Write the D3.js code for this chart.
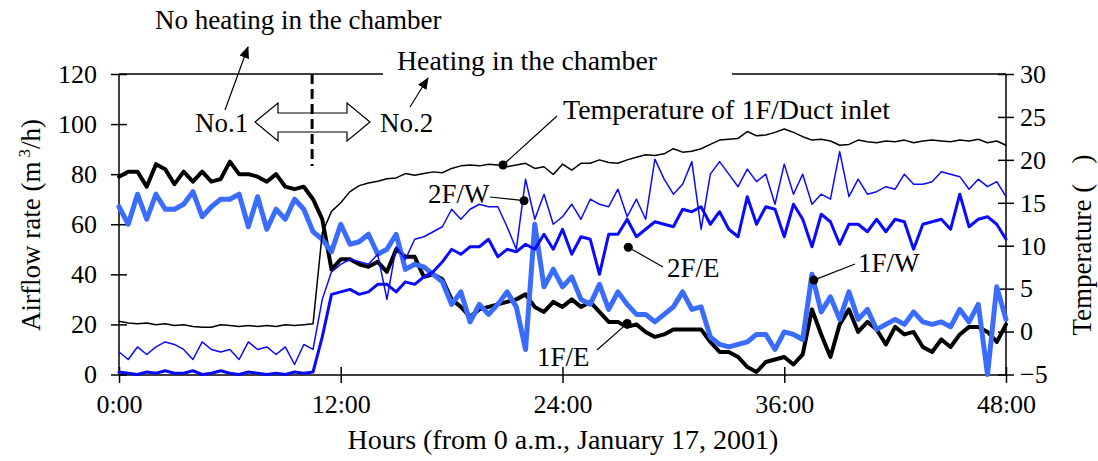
<!DOCTYPE html>
<html><head><meta charset="utf-8">
<script src="https://cdn.jsdelivr.net/npm/d3@7"></script>
<style>
body{margin:0;background:#fff}
svg{display:block}
text{font-family:"Liberation Serif","Times New Roman",serif;fill:#000}
</style>
</head><body>
<svg id="c" width="1098" height="461"></svg>
<script>
// time grid (hours from 0 a.m., Jan 17, 2001), every 30 min
const hours = d3.range(0, 48.01, 0.5);

// 1F/E airflow (m3/h)
const f1E = [79,81,81,75,84,82,76,81,77,81,77,78,85,80,80,79,
  77,80,75,74,75,70,62,42,46,46,44,43,45,41,50,47,
  47,39,40,38,30,27,23,26,27,28,29,30,32,27,25,29,
  27,30,27,29,25,21,21,19,20,17,15,16,18,18,18,18,
  13,9,9,7,3,1,5,6,7,4,8,26,16,7,20,26,
  17,21,18,12,19,16,17,11,9,14,11,16,19,19,17,13,
  20];
// 1F/W airflow
const f1W = [67,60,72,62,72,66,66,68,73,63,67,70,70,72,59,71,
  58,66,62,70,66,57,54,49,60,52,53,56,48,50,56,42,
  44,43,40,37,28,33,21,28,24,28,33,27,10,60,35,42,
  35,39,30,28,36,26,33,28,24,24,21,24,27,33,26,27,
  15,12,11,12,13,16,16,10,17,16,14,40,25,31,22,33,
  22,26,18,20,22,20,25,21,20,21,19,26,21,28,0,35,
  22];
// 2F/W airflow
const f2W = [9,6,11,8,11,13,12,10,6,13,10,9,10,6,13,10,
  11,8,11,4,12,10,30,41,44,46,45,44,48,30,51,46,
  54,55,57,59,66,62,66,68,67,67,59,50,78,62,72,60,
  63,68,62,70,68,67,74,63,70,62,86,78,72,76,85,58,
  80,85,80,75,82,77,80,68,84,72,80,68,72,70,89,71,
  78,72,73,75,74,80,76,76,77,81,80,79,74,78,75,77,
  71];
// 2F/E airflow
const f2E = [1,0.5,0,1,0.5,1.5,0.5,0.5,1.5,0,0.5,1.5,0.5,0,1,0.5,
  0,0.5,0,1,0.5,1,15,32,33,34,32,33,36,36,33,37,
  36,39,41,45,50,48,51,51,54,47,50,49,52,50,56,50,
  58,48,55,54,40,56,56,62,55,58,61,60,59,66,65,67,
  60,65,58,55,71,60,67,66,55,68,62,51,64,61,52,60,
  60,57,62,57,62,61,50,60,61,62,58,72,59,62,63,60,
  54];
// Temperature of 1F/Duct inlet (deg C)
const tempDuct = [1.2,1.0,0.9,1.0,0.8,0.9,0.7,0.8,0.6,0.5,0.5,0.8,0.7,0.6,0.7,0.6,
  0.7,0.6,0.8,0.7,0.8,0.9,11.5,14.0,15.0,16.3,17.0,17.3,17.5,17.8,17.9,18.4,
  18.2,18.4,18.6,18.5,19.0,19.3,19.4,19.3,19.5,19.4,19.2,19.4,19.6,19.0,19.2,18.3,
  19.5,18.8,19.6,19.6,20.0,19.7,19.6,20.0,20.3,20.6,20.5,20.7,21.3,20.9,21.0,21.3,
  21.8,22.3,22.4,22.5,23.3,22.8,22.9,23.2,23.6,23.2,22.7,22.3,22.4,22.2,21.7,21.8,
  22.3,22.1,22.0,22.2,22.1,22.3,22.0,22.2,22.3,22.2,22.1,22.3,22.2,22.4,22.0,22.2,
  21.7];

const xTicks = [0,12,24,36,48];
const leftTicks = [0,20,40,60,80,100,120];
const rightTicks = [-5,0,5,10,15,20,25,30];

const svg = d3.select("#c");
svg.append("rect").attr("width",1098).attr("height",461).attr("fill","#fff");

const x = d3.scaleLinear().domain([0,48]).range([119,1006]);
const yL = d3.scaleLinear().domain([0,120]).range([374.5,74]);
const yR = d3.scaleLinear().domain([-5,30]).range([374.5,74]);

const defs = svg.append("defs");
defs.append("marker").attr("id","ah").attr("viewBox","0 0 12 10")
  .attr("refX",11).attr("refY",5).attr("markerWidth",12).attr("markerHeight",10)
  .attr("markerUnits","userSpaceOnUse").attr("orient","auto")
  .append("path").attr("d","M0,0 L12,5 L0,10 Z").attr("fill","#000");

// axes
const axL = svg.append("g").attr("transform","translate(119,0)")
  .call(d3.axisLeft(yL).tickValues(leftTicks).tickSize(8).tickPadding(14));
axL.select(".domain").remove();
axL.selectAll(".tick line").attr("x1",8).attr("stroke-width",1.5);
axL.selectAll("text").attr("font-size",26).attr("font-family","Liberation Serif");

const axR = svg.append("g").attr("transform","translate(1006,0)")
  .call(d3.axisRight(yR).tickValues(rightTicks).tickSize(8).tickPadding(6));
axR.select(".domain").remove();
axR.selectAll(".tick line").attr("x1",-8).attr("stroke-width",1.5);
axR.selectAll("text").attr("font-size",26).attr("font-family","Liberation Serif");

const axB = svg.append("g").attr("transform","translate(0,375)")
  .call(d3.axisBottom(x).tickValues(xTicks).tickSize(8).tickPadding(12)
    .tickFormat(d => d + ":00"));
axB.select(".domain").remove();
axB.selectAll(".tick line").attr("y1",-8).attr("stroke-width",1.5);
axB.selectAll("text").attr("font-size",26).attr("font-family","Liberation Serif");

// frame
const frame = [[119,74,119,375],[119,375,1006,375],[1006,74,1006,375],[119,74,383,74],[732,74,1006,74]];
svg.append("g").selectAll("line").data(frame).join("line")
  .attr("x1",d=>d[0]).attr("y1",d=>d[1]).attr("x2",d=>d[2]).attr("y2",d=>d[3])
  .attr("stroke","#000").attr("stroke-width",1.5);

// series
const lineL = d3.line().x((d,i)=>x(hours[i])).y(d=>yL(d));
const lineR = d3.line().x((d,i)=>x(hours[i])).y(d=>yR(d));
const series = [
  {data:f1E, gen:lineL, color:"#000000", w:4},
  {data:f1W, gen:lineL, color:"#3a6cff", w:5},
  {data:f2E, gen:lineL, color:"#0a0aff", w:3},
  {data:f2W, gen:lineL, color:"#0a0aff", w:1.5},
  {data:tempDuct, gen:lineR, color:"#000000", w:1.5}
];
svg.append("g").selectAll("path").data(series).join("path")
  .attr("d",d=>d.gen(d.data)).attr("fill","none")
  .attr("stroke",d=>d.color).attr("stroke-width",d=>d.w)
  .attr("stroke-linejoin","round").attr("stroke-linecap","round");

// annotations
const ann = svg.append("g");
// block double arrow
ann.append("path")
  .attr("d","M255,122 L278,103 L278,113 L347,113 L347,103 L370,122 L347,141 L347,132 L278,132 L278,141 Z")
  .attr("fill","#fff").attr("stroke","#000").attr("stroke-width",1.2);
// dashed vertical line (switch from No.1 to No.2)
ann.append("line").attr("x1",x(10.45)).attr("x2",x(10.45)).attr("y1",74).attr("y2",166)
  .attr("stroke","#000").attr("stroke-width",3).attr("stroke-dasharray","10,5");

const txt = (t,xx,yy,fs) => ann.append("text").attr("x",xx).attr("y",yy)
  .attr("font-size",fs||27).text(t);
txt("No heating in the chamber",155,29);
txt("Heating in the chamber",397,70,27.8);
txt("No.1",195,132);
txt("No.2",380,132);
txt("Temperature of 1F/Duct inlet",563,119,28);
txt("2F/W",428,203);
txt("2F/E",667,277);
txt("1F/E",537,366);
txt("1F/W",858,272);

// pointer arrows
ann.append("line").attr("x1",225).attr("y1",110).attr("x2",248).attr("y2",47)
  .attr("stroke","#000").attr("stroke-width",1.2).attr("marker-end","url(#ah)");
ann.append("line").attr("x1",410).attr("y1",107).attr("x2",428).attr("y2",78)
  .attr("stroke","#000").attr("stroke-width",1.2).attr("marker-end","url(#ah)");

// labelled points with leader lines
const callouts = [
  {h:20.78, v:19.4, sc:yR, lx:557, ly:116},
  {h:21.92, v:69.4, sc:yL, lx:490, ly:197},
  {h:27.56, v:50.8, sc:yL, lx:663, ly:267},
  {h:27.5,  v:20.4, sc:yL, lx:597, ly:350},
  {h:37.6,  v:37.7, sc:yL, lx:855, ly:264}
];
callouts.forEach(c=>{
  ann.append("line").attr("x1",x(c.h)).attr("y1",c.sc(c.v)).attr("x2",c.lx).attr("y2",c.ly)
    .attr("stroke","#000").attr("stroke-width",1.2);
  ann.append("circle").attr("cx",x(c.h)).attr("cy",c.sc(c.v)).attr("r",4.5).attr("fill","#000");
});

// axis titles
svg.append("text").attr("transform","translate(40,225) rotate(-90)")
  .attr("text-anchor","middle").attr("font-size",27)
  .call(t=>{
    t.append("tspan").text("Airflow rate (m");
    t.append("tspan").attr("font-size",17).attr("dx",4).attr("dy",-10).text("3");
    t.append("tspan").attr("dy",10).text("/h)");
  });
svg.append("text").attr("transform","translate(1091,245) rotate(-90)")
  .attr("text-anchor","middle").attr("font-size",27).text("Temperature (\u00a0\u00a0\u00a0)");
svg.append("text").attr("x",563).attr("y",449).attr("text-anchor","middle")
  .attr("font-size",28).text("Hours (from 0 a.m., January 17, 2001)");
</script>
</body></html>
